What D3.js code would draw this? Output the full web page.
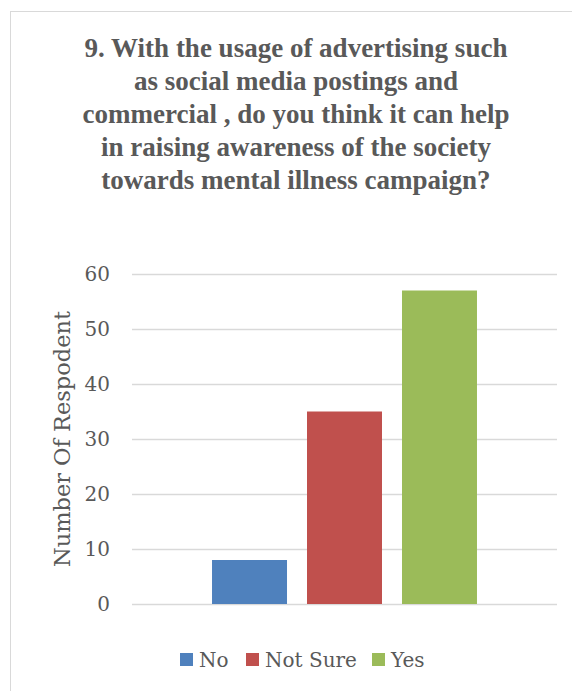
<!DOCTYPE html>
<html>
<head>
<meta charset="utf-8">
<script src="https://cdn.jsdelivr.net/npm/d3@7"></script>
<style>
  body { margin: 0; background: #fff; }
</style>
</head>
<body>
<div id="viz-container"></div>
<script>
// data
let titleLines = [
  "9. With the usage of advertising such",
  "as social media postings and",
  "commercial , do you think it can help",
  "in raising awareness of the society",
  "towards mental illness campaign?"
];
let seriesNames = ["No", "Not Sure", "Yes"];
let seriesValues = [8, 35, 57];
let seriesColors = ["#4F81BD", "#C0504D", "#9BBB59"];
let yTicks = [0, 10, 20, 30, 40, 50, 60];
let category = [""];

// canvas
let viz = d3.select("#viz-container")
    .append("svg")
    .attr("width", 572)
    .attr("height", 691);

// chart frame
viz.append("rect")
  .attr("x", 10.5).attr("y", 11.5)
  .attr("width", 600).attr("height", 700)
  .attr("fill", "white")
  .attr("stroke", "#D9D9D9");

// title
viz.append("text")
  .attr("x", 296)
  .attr("y", 57)
  .attr("text-anchor", "middle")
  .attr("font-family", "'Liberation Serif', 'Times New Roman', serif")
  .attr("font-weight", "bold")
  .attr("font-size", 27)
  .attr("fill", "#595959")
  .selectAll("tspan").data(titleLines).enter()
  .append("tspan")
    .attr("x", 296)
    .attr("dy", (d, i) => i == 0 ? 0 : 33)
    .text(d => d);

// scales
let y = d3.scaleLinear().domain([0, 60]).range([604, 274]);
let x0 = d3.scaleBand().domain(category).range([132, 557]).paddingInner(0).paddingOuter(0.302);
let x1 = d3.scaleBand().domain(seriesNames).range([0, x0.bandwidth()]).paddingInner(20 / 95).paddingOuter(0);

// gridlines
viz.append("g").selectAll("line").data(yTicks).enter()
  .append("line")
    .attr("x1", 132).attr("x2", 557)
    .attr("y1", d => Math.round(y(d)) + 0.5)
    .attr("y2", d => Math.round(y(d)) + 0.5)
    .attr("stroke", "#D9D9D9")
    .attr("stroke-width", 1.3);

// y axis labels
let yAxis = d3.axisLeft(y).tickValues(yTicks).tickSize(0).tickPadding(22);
let yg = viz.append("g").attr("transform", "translate(132,0)").call(yAxis);
yg.select(".domain").remove();
yg.selectAll("text")
  .attr("font-family", "'DejaVu Serif', Cambria, serif")
  .attr("font-size", 20)
  .attr("fill", "#595959");

// axis title
viz.append("text")
  .attr("transform", "translate(70,439) rotate(-90)")
  .attr("text-anchor", "middle")
  .attr("font-family", "'DejaVu Serif', Cambria, serif")
  .attr("font-size", 22.5)
  .attr("fill", "#595959")
  .text("Number Of Respodent");

// bars
let bars = seriesNames.map((s, i) => ({ name: s, value: seriesValues[i], color: seriesColors[i] }));
viz.append("g").selectAll("rect").data(bars).enter()
  .append("rect")
    .attr("x", d => x0("") + x1(d.name))
    .attr("y", d => y(d.value))
    .attr("width", x1.bandwidth())
    .attr("height", d => y(0) - y(d.value))
    .attr("fill", d => d.color);

// legend
let legendX = [180, 246, 372];
let legend = viz.append("g").selectAll("g").data(bars).enter()
  .append("g")
    .attr("transform", (d, i) => "translate(" + legendX[i] + ",653)");
legend.append("rect")
  .attr("width", 13).attr("height", 13)
  .attr("fill", d => d.color);
legend.append("text")
  .attr("x", 19).attr("y", 14)
  .attr("font-family", "'DejaVu Serif', Cambria, serif")
  .attr("font-size", 20)
  .attr("fill", "#595959")
  .text(d => d.name);
</script>
</body>
</html>
